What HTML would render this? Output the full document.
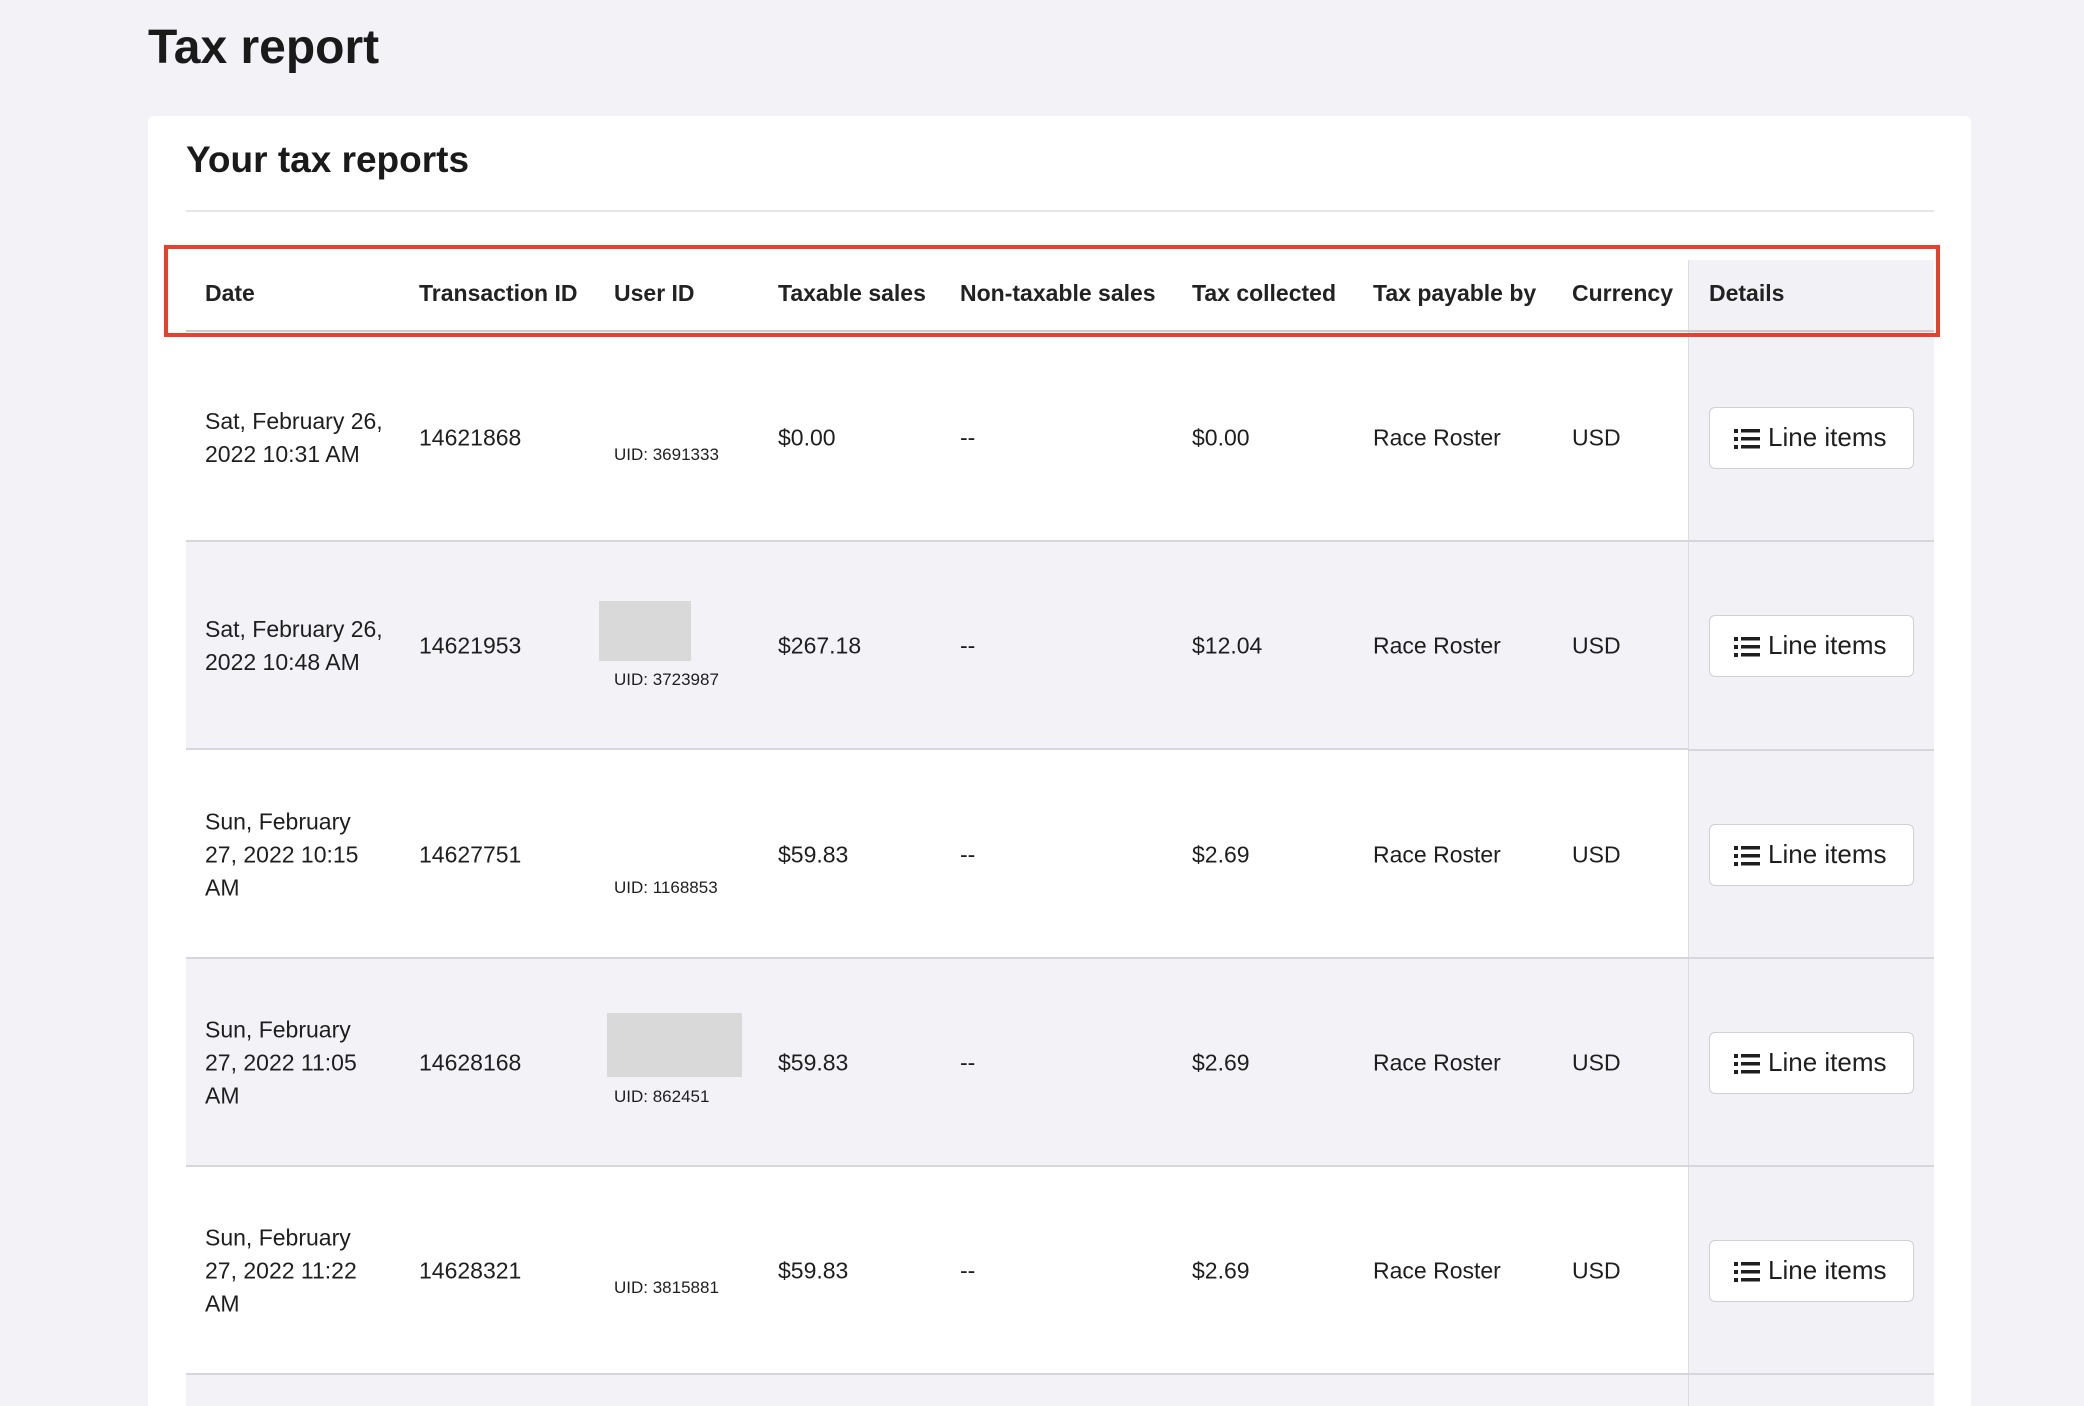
<!DOCTYPE html>
<html style="width:2084px;height:1406px;overflow:hidden"><head><style>
*{margin:0;padding:0;box-sizing:border-box}
body{width:2084px;height:1406px;background:#f3f2f7;font-family:"Liberation Sans",sans-serif;color:#1e1e1e;position:relative;overflow:hidden}
.a{position:absolute}
.h{position:absolute;top:280px;font-size:23px;font-weight:bold;color:#222}
.row{position:absolute;left:186px;width:1748px;height:208px;border-bottom:2px solid #d6d6dc}
.c{position:absolute;font-size:23px;line-height:33px;transform:translateY(-50%)}
.uid{position:absolute;font-size:17px}
.btn{position:absolute;left:1709px;width:205px;height:62px;background:#fff;border:1.5px solid #cfcfd4;border-radius:6px;font-size:26px;line-height:59px;padding-left:58px}
.ic{position:absolute;left:24px;top:21px;width:26px;height:20px}
</style></head><body>
<div class="a" style="left:148px;top:20px;font-size:48px;font-weight:bold;color:#1a1a1a">Tax report</div>
<div class="a" style="left:148px;top:116px;width:1823px;height:1290px;background:#fff;border-radius:6px 6px 0 0"></div>
<div class="a" style="left:186px;top:139px;font-size:37px;font-weight:bold;color:#1a1a1a">Your tax reports</div>
<div class="a" style="left:186px;top:210px;width:1748px;height:2px;background:#e6e6ea"></div>

<div class="a" style="left:1688px;top:260px;width:246px;height:1146px;background:#f2f1f6;border-left:1.5px solid #dcdce2"></div>
<div class="a" style="left:186px;top:330px;width:1748px;height:2px;background:#c9c9cf"></div>

<div class="h" style="left:205px">Date</div>
<div class="h" style="left:419px">Transaction ID</div>
<div class="h" style="left:614px">User ID</div>
<div class="h" style="left:778px">Taxable sales</div>
<div class="h" style="left:960px">Non-taxable sales</div>
<div class="h" style="left:1192px">Tax collected</div>
<div class="h" style="left:1373px">Tax payable by</div>
<div class="h" style="left:1572px">Currency</div>
<div class="h" style="left:1709px">Details</div>
<div class="a" style="left:164px;top:245px;width:1776px;height:92px;border:4px solid #e5412b"></div>

<div class="row" style="top:332px;height:210px;background:transparent"></div>
<div class="row" style="top:542px;background:#f3f2f7;width:1502px"></div>
<div class="row" style="top:751px;width:1502px"></div>
<div class="row" style="top:959px;background:#f3f2f7;width:1502px"></div>
<div class="row" style="top:1167px;width:1502px"></div>
<div class="row" style="top:1375px;height:31px;background:#f3f2f7;width:1502px;border:none"></div>
<div class="a" style="left:1688px;top:540px;width:246px;height:2px;background:#d6d6dc"></div>
<div class="a" style="left:1688px;top:749px;width:246px;height:2px;background:#d6d6dc"></div>
<div class="a" style="left:1688px;top:957px;width:246px;height:2px;background:#d6d6dc"></div>
<div class="a" style="left:1688px;top:1165px;width:246px;height:2px;background:#d6d6dc"></div>
<div class="a" style="left:1688px;top:1373px;width:246px;height:2px;background:#d6d6dc"></div>

<div class="a" style="left:599px;top:601px;width:92px;height:60px;background:#d9d9d9"></div>
<div class="a" style="left:607px;top:1013px;width:135px;height:64px;background:#d9d9d9"></div>

<div class="c" style="left:205px;top:438px">Sat, February 26,<br>2022 10:31 AM</div>
<div class="c" style="left:419px;top:438px">14621868</div>
<div class="uid" style="left:614px;top:445px">UID: 3691333</div>
<div class="c" style="left:778px;top:438px">$0.00</div>
<div class="c" style="left:960px;top:438px">--</div>
<div class="c" style="left:1192px;top:438px">$0.00</div>
<div class="c" style="left:1373px;top:438px">Race Roster</div>
<div class="c" style="left:1572px;top:438px">USD</div>

<div class="c" style="left:205px;top:646px">Sat, February 26,<br>2022 10:48 AM</div>
<div class="c" style="left:419px;top:646px">14621953</div>
<div class="uid" style="left:614px;top:670px">UID: 3723987</div>
<div class="c" style="left:778px;top:646px">$267.18</div>
<div class="c" style="left:960px;top:646px">--</div>
<div class="c" style="left:1192px;top:646px">$12.04</div>
<div class="c" style="left:1373px;top:646px">Race Roster</div>
<div class="c" style="left:1572px;top:646px">USD</div>

<div class="c" style="left:205px;top:855px">Sun, February<br>27, 2022 10:15<br>AM</div>
<div class="c" style="left:419px;top:855px">14627751</div>
<div class="uid" style="left:614px;top:878px">UID: 1168853</div>
<div class="c" style="left:778px;top:855px">$59.83</div>
<div class="c" style="left:960px;top:855px">--</div>
<div class="c" style="left:1192px;top:855px">$2.69</div>
<div class="c" style="left:1373px;top:855px">Race Roster</div>
<div class="c" style="left:1572px;top:855px">USD</div>

<div class="c" style="left:205px;top:1063px">Sun, February<br>27, 2022 11:05<br>AM</div>
<div class="c" style="left:419px;top:1063px">14628168</div>
<div class="uid" style="left:614px;top:1087px">UID: 862451</div>
<div class="c" style="left:778px;top:1063px">$59.83</div>
<div class="c" style="left:960px;top:1063px">--</div>
<div class="c" style="left:1192px;top:1063px">$2.69</div>
<div class="c" style="left:1373px;top:1063px">Race Roster</div>
<div class="c" style="left:1572px;top:1063px">USD</div>

<div class="c" style="left:205px;top:1271px">Sun, February<br>27, 2022 11:22<br>AM</div>
<div class="c" style="left:419px;top:1271px">14628321</div>
<div class="uid" style="left:614px;top:1278px">UID: 3815881</div>
<div class="c" style="left:778px;top:1271px">$59.83</div>
<div class="c" style="left:960px;top:1271px">--</div>
<div class="c" style="left:1192px;top:1271px">$2.69</div>
<div class="c" style="left:1373px;top:1271px">Race Roster</div>
<div class="c" style="left:1572px;top:1271px">USD</div>

<div class="btn" style="top:407px"><svg class="ic" viewBox="0 0 26 20"><g fill="#1e1e1e"><rect x="0" y="0" width="4" height="4"/><rect x="0" y="8" width="4" height="4"/><rect x="0" y="16" width="4" height="4"/><rect x="7" y="0" width="19" height="3.5"/><rect x="7" y="8" width="19" height="3.5"/><rect x="7" y="16" width="19" height="3.5"/></g></svg>Line items</div>
<div class="btn" style="top:615px"><svg class="ic" viewBox="0 0 26 20"><g fill="#1e1e1e"><rect x="0" y="0" width="4" height="4"/><rect x="0" y="8" width="4" height="4"/><rect x="0" y="16" width="4" height="4"/><rect x="7" y="0" width="19" height="3.5"/><rect x="7" y="8" width="19" height="3.5"/><rect x="7" y="16" width="19" height="3.5"/></g></svg>Line items</div>
<div class="btn" style="top:824px"><svg class="ic" viewBox="0 0 26 20"><g fill="#1e1e1e"><rect x="0" y="0" width="4" height="4"/><rect x="0" y="8" width="4" height="4"/><rect x="0" y="16" width="4" height="4"/><rect x="7" y="0" width="19" height="3.5"/><rect x="7" y="8" width="19" height="3.5"/><rect x="7" y="16" width="19" height="3.5"/></g></svg>Line items</div>
<div class="btn" style="top:1032px"><svg class="ic" viewBox="0 0 26 20"><g fill="#1e1e1e"><rect x="0" y="0" width="4" height="4"/><rect x="0" y="8" width="4" height="4"/><rect x="0" y="16" width="4" height="4"/><rect x="7" y="0" width="19" height="3.5"/><rect x="7" y="8" width="19" height="3.5"/><rect x="7" y="16" width="19" height="3.5"/></g></svg>Line items</div>
<div class="btn" style="top:1240px"><svg class="ic" viewBox="0 0 26 20"><g fill="#1e1e1e"><rect x="0" y="0" width="4" height="4"/><rect x="0" y="8" width="4" height="4"/><rect x="0" y="16" width="4" height="4"/><rect x="7" y="0" width="19" height="3.5"/><rect x="7" y="8" width="19" height="3.5"/><rect x="7" y="16" width="19" height="3.5"/></g></svg>Line items</div>
</body></html>
